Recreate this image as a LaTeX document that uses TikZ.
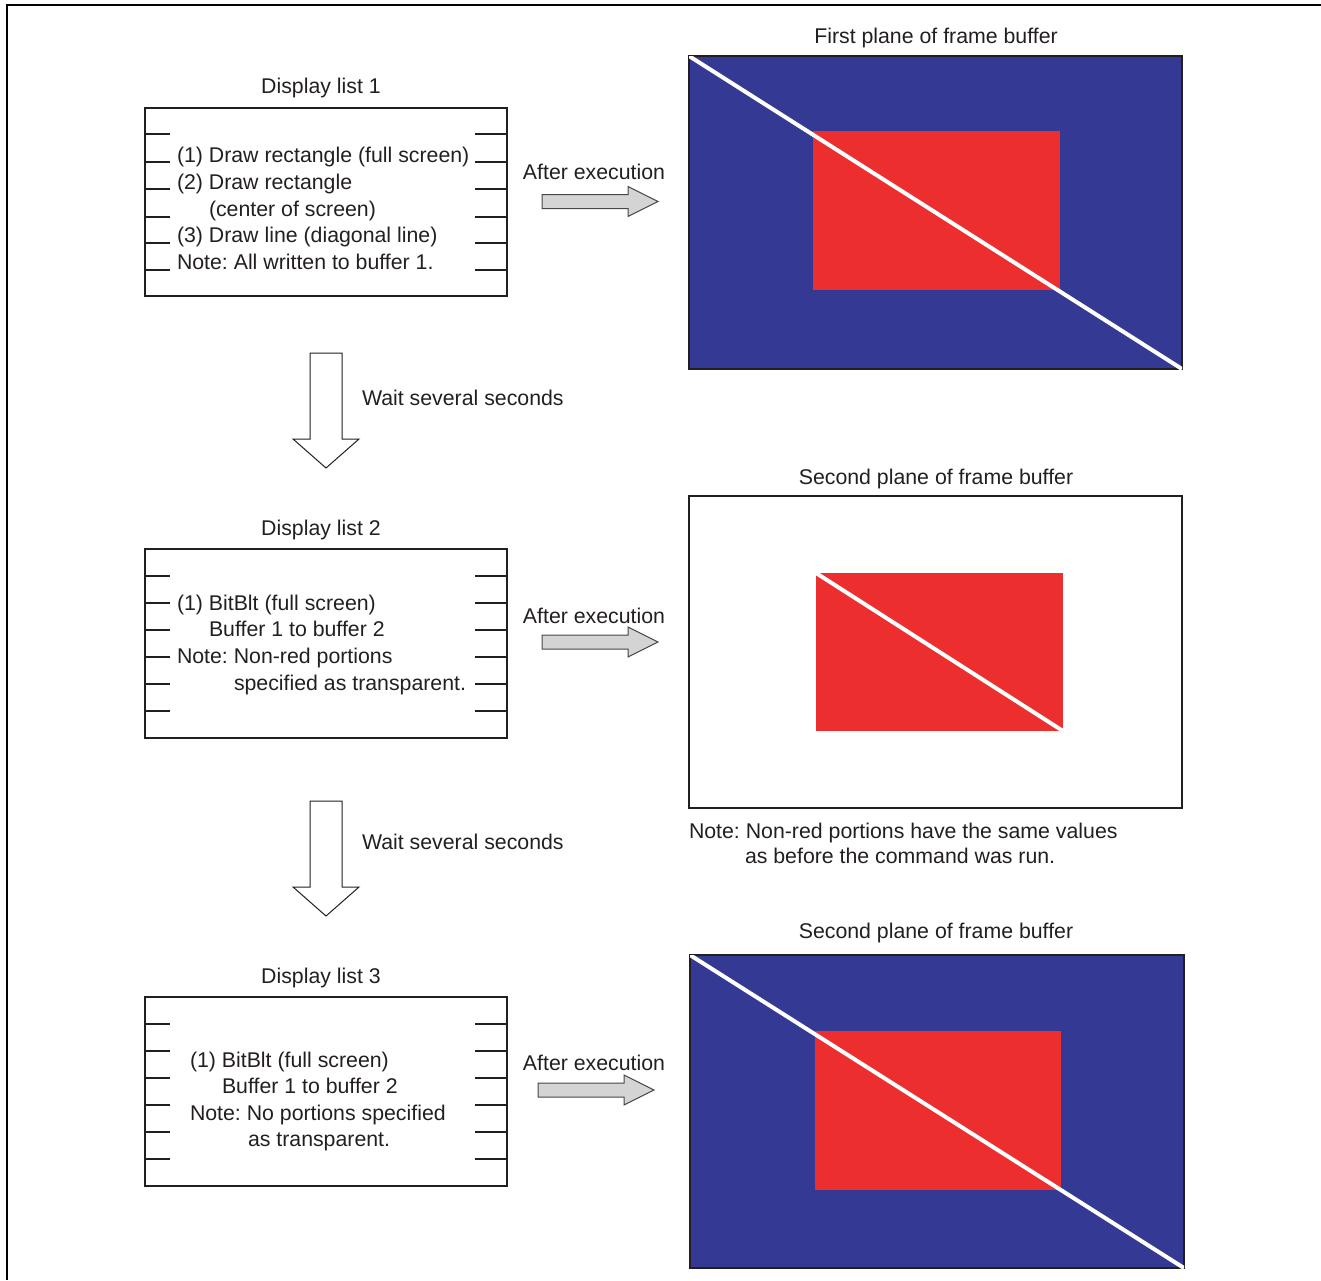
\documentclass[tikz,border=0pt]{standalone}
\usepackage{fontspec}
\setmainfont{Liberation Sans}
\definecolor{fbblue}{RGB}{52,58,148}
\definecolor{fbred}{RGB}{236,46,47}
\definecolor{ink}{RGB}{35,31,32}
\definecolor{arrowfill}{RGB}{212,212,212}
\definecolor{arrowline}{RGB}{70,70,70}
\frenchspacing
\begin{document}
\begin{tikzpicture}[x=1pt,y=-1pt,
  txt/.style={inner sep=0pt, outer sep=0pt, yshift=1pt, text=ink, font=\fontsize{21.3}{26}\selectfont},
  listbox/.style={draw=ink, line width=2pt},
  tickline/.style={draw=ink, line width=1.8pt},
  framebox/.style={draw=ink, line width=2pt},
  diag/.style={draw=white, line width=4pt},
  rightarrow/.style={draw=arrowline, fill=arrowfill, line width=1pt, line join=miter},
  downarrow/.style={draw=ink, fill=white, line width=1pt, line join=miter},
  outer/.style={draw=black, line width=2.5pt}
]
\useasboundingbox (0,0) rectangle (1321,1280);

% outer frame (open to the right and bottom)
\draw[outer] (7,1280) -- (7,5) -- (1321,5);

% ---------- display list boxes ----------
\draw[listbox] (145,108) rectangle (507,296);
\foreach \y in {134,162,189,217,243,270}{
  \draw[tickline] (145,\y) -- (170,\y);
  \draw[tickline] (475,\y) -- (507,\y);
}
\draw[listbox] (145,549) rectangle (507,738);
\foreach \y in {576,603,630,657,684,711}{
  \draw[tickline] (145,\y) -- (170,\y);
  \draw[tickline] (475,\y) -- (507,\y);
}
\draw[listbox] (145,997) rectangle (507,1186);
\foreach \y in {1024,1051,1078,1105,1132,1159}{
  \draw[tickline] (145,\y) -- (170,\y);
  \draw[tickline] (475,\y) -- (507,\y);
}

% titles of the lists
\node[txt, anchor=base] (dl1) at (321,94) {Display list 1};
\node[txt, anchor=base] (dl2) at (321,536) {Display list 2};
\node[txt, anchor=base] (dl3) at (321,984) {Display list 3};

% list 1 contents
\node[txt, anchor=base west] (a1) at (177,163) {(1) Draw rectangle (full screen)};
\node[txt, anchor=base west] (a2) at (177,190) {(2) Draw rectangle};
\node[txt, anchor=base west] (a3) at (209,217) {(center of screen)};
\node[txt, anchor=base west] (a4) at (177,243.5) {(3) Draw line (diagonal line)};
\node[txt, anchor=base west] (a5) at (177,270) {Note: All written to buffer 1.};

% list 2 contents
\node[txt, anchor=base west] (b1) at (177,611) {(1) BitBlt (full screen)};
\node[txt, anchor=base west] (b2) at (209,637.5) {Buffer 1 to buffer 2};
\node[txt, anchor=base west] (b3) at (177,664.5) {Note: Non-red portions};
\node[txt, anchor=base west] (b4) at (234,691) {specified as transparent.};

% list 3 contents
\node[txt, anchor=base west] (c1) at (190,1068) {(1) BitBlt (full screen)};
\node[txt, anchor=base west] (c2) at (222,1094.5) {Buffer 1 to buffer 2};
\node[txt, anchor=base west] (c3) at (190,1121) {Note: No portions specified};
\node[txt, anchor=base west] (c4) at (248,1147.5) {as transparent.};

% ---------- execution arrows ----------
\node[txt, anchor=base] (ex1) at (594,180) {After execution};
\draw[rightarrow] (542,194.5) -- (628,194.5) -- (628,186.5) -- (658,201.5) -- (628,216.5) -- (628,208.5) -- (542,208.5) -- cycle;
\node[txt, anchor=base] (ex2) at (594,624) {After execution};
\draw[rightarrow] (542,635) -- (628,635) -- (628,627) -- (658,642) -- (628,657) -- (628,649) -- (542,649) -- cycle;
\node[txt, anchor=base] (ex3) at (594,1071) {After execution};
\draw[rightarrow] (538,1083) -- (624,1083) -- (624,1075) -- (654,1090) -- (624,1105) -- (624,1097) -- (538,1097) -- cycle;

% ---------- wait arrows ----------
\draw[downarrow] (310,353) -- (342,353) -- (342,439) -- (359,439) -- (326,468) -- (293,439) -- (310,439) -- cycle;
\node[txt, anchor=base west] (w1) at (362,406) {Wait several seconds};
\draw[downarrow] (310,801) -- (342,801) -- (342,887) -- (359,887) -- (326,916) -- (293,887) -- (310,887) -- cycle;
\node[txt, anchor=base west] (w2) at (362,850) {Wait several seconds};

% ---------- frame buffer planes ----------
\node[txt, anchor=base] (fb1) at (936,44) {First plane of frame buffer};
\fill[fbblue] (689,56) rectangle (1182,369);
\fill[fbred] (813,131) rectangle (1060,290);
\draw[framebox] (689,56) rectangle (1182,369);
\begin{scope}
  \clip (689,56) rectangle (1182,369);
  \draw[diag] (689,56) -- (1182,369);
\end{scope}

\node[txt, anchor=base] (fb2) at (936,485) {Second plane of frame buffer};
\fill[fbred] (816,573) rectangle (1063,731);
\draw[framebox] (689,496) rectangle (1182,808);
\begin{scope}
  \clip (816,573) rectangle (1063,731);
  \draw[diag] (816,573) -- (1063,731);
\end{scope}
\node[txt, anchor=base west] (n1) at (689,839) {Note: Non-red portions have the same values};
\node[txt, anchor=base west] (n2) at (745,864) {as before the command was run.};

\node[txt, anchor=base] (fb3) at (936,939) {Second plane of frame buffer};
\fill[fbblue] (690,955) rectangle (1184,1268);
\fill[fbred] (815,1031) rectangle (1061,1190);
\draw[framebox] (690,955) rectangle (1184,1268);
\begin{scope}
  \clip (690,955) rectangle (1184,1268);
  \draw[diag] (690,955) -- (1184,1268);
\end{scope}
\end{tikzpicture}
\end{document}
